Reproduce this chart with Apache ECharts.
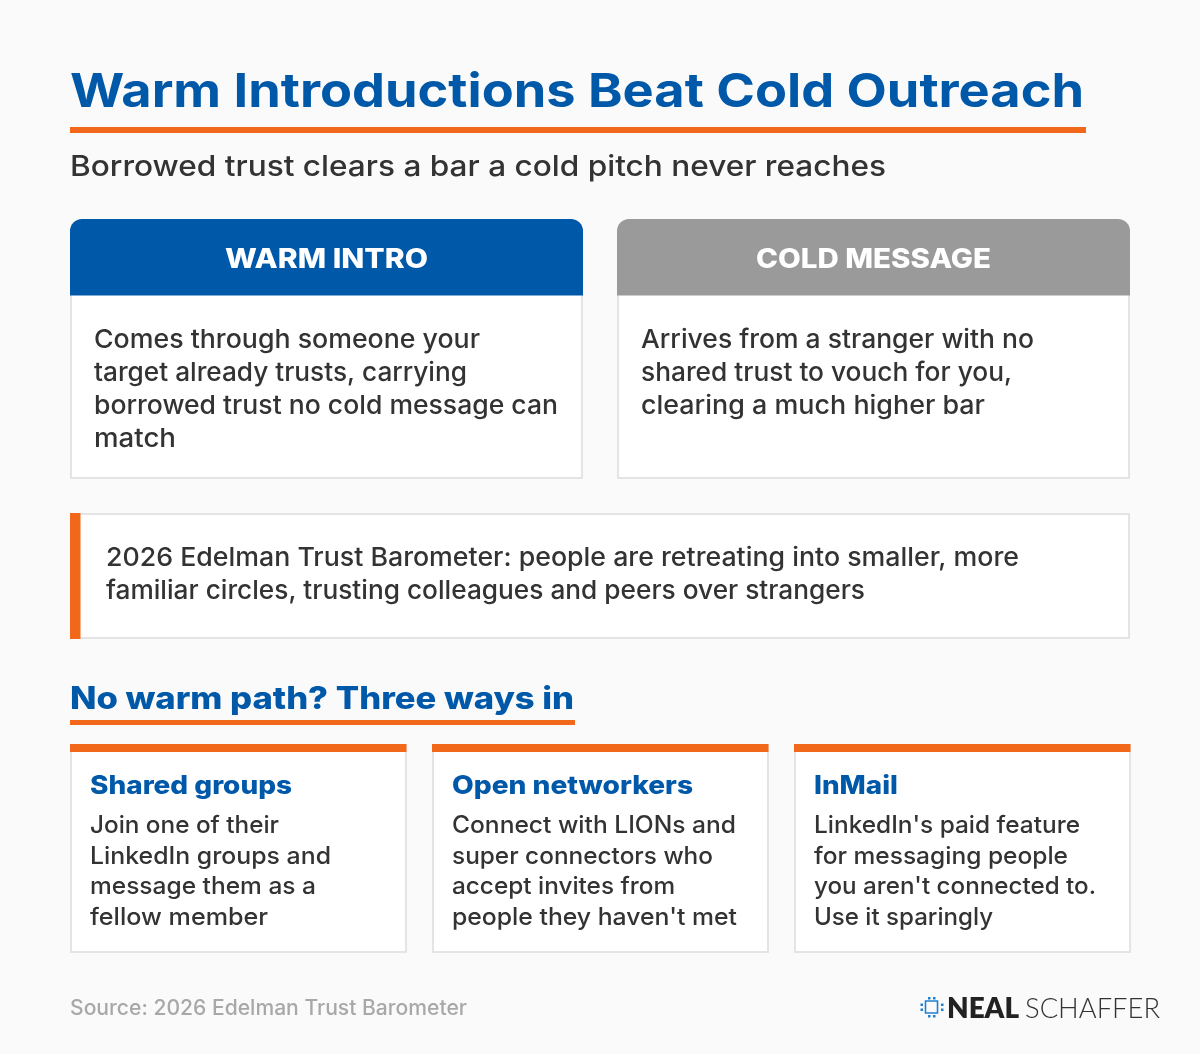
<!DOCTYPE html>
<html><head><meta charset="utf-8">
<style>html,body{margin:0;padding:0;background:#fafafa}#c{width:1200px;height:1054px}</style>
<script src="https://cdn.jsdelivr.net/npm/echarts@6/dist/echarts.min.js"></script>
</head><body><div id="c"></div>
<script>
const titleText = "Warm Introductions Beat Cold Outreach";
const subtitleText = "Borrowed trust clears a bar a cold pitch never reaches";
const columnHeads = ["WARM INTRO", "COLD MESSAGE"];
const warmLines = ["Comes through someone your", "target already trusts, carrying", "borrowed trust no cold message can", "match"];
const coldLines = ["Arrives from a stranger with no", "shared trust to vouch for you,", "clearing a much higher bar"];
const calloutLines = ["2026 Edelman Trust Barometer: people are retreating into smaller, more", "familiar circles, trusting colleagues and peers over strangers"];
const sectionHead = "No warm path? Three ways in";
const wayTitles = ["Shared groups", "Open networkers", "InMail"];
const way1Lines = ["Join one of their", "LinkedIn groups and", "message them as a", "fellow member"];
const way2Lines = ["Connect with LIONs and", "super connectors who", "accept invites from", "people they haven't met"];
const way3Lines = ["LinkedIn's paid feature", "for messaging people", "you aren't connected to.", "Use it sparingly"];
const sourceText = "Source: 2026 Edelman Trust Barometer";
const logoWords = ["NEAL", "SCHAFFER"];

const BLUE = '#0058a9', ORANGE = '#f2681a', GREY = '#9a9a9a', INK = '#333333', BORDER = '#e4e4e4';
const FAM = 'Inter, "Noto Sans", sans-serif';
const mctx = document.createElement('canvas').getContext('2d');
const els = [];
function rect(x, y, w, h, fill, extra) {
  els.push(Object.assign({type:'rect', shape:{x, y, width:w, height:h, r:(extra&&extra.r)||0},
    style:{fill, stroke:(extra&&extra.stroke)||null, lineWidth:(extra&&extra.lw)||0}, silent:true}));
}
function text(str, x, yMid, font, fill, width, center) {
  mctx.font = font;
  const natural = mctx.measureText(str).width;
  const sx = width ? width / natural : 1;
  const left = center ? center - (width || natural) / 2 : x;
  els.push({type:'text', x:left, y:yMid, scaleX:sx, scaleY:1, silent:true,
    style:{text:str, x:0, y:0, font, fill, textAlign:'left', textVerticalAlign:'middle'}});
}
const f = (w, s, fam) => `${w} ${s}px ${fam || FAM}`;

// title block
text(titleText, 70, 92.5, f(700, 47), BLUE, 1014);
rect(70, 127, 1016, 6, ORANGE);
text(subtitleText, 70, 167, f(500, 29), INK, 816);

// comparison cards
[[70, 513, BLUE], [617, 513, GREY]].forEach(([x, w, c], i) => {
  rect(x + 1, 290, w - 2, 188, '#ffffff', {stroke:BORDER, lw:2});
  rect(x, 219, w, 76.5, c, {r:[12,12,0,0]});
  text(columnHeads[i], 0, 260, f(800, 27), '#ffffff', [203, 235][i], x + w / 2);
});
const warmW = [386, 373, 464, 82], coldW = [393, 371, 344], bodyY = [340, 373, 406, 439];
warmLines.forEach((s, i) => text(s, 94, bodyY[i], f(500, 26), INK, warmW[i]));
coldLines.forEach((s, i) => text(s, 641, bodyY[i], f(500, 26), INK, coldW[i]));

// callout
rect(71, 514, 1058, 124, '#ffffff', {stroke:BORDER, lw:2});
rect(70, 513, 10.5, 126, ORANGE);
const callW = [913, 759], callY = [558, 591];
calloutLines.forEach((s, i) => text(s, 106, callY[i], f(500, 26), INK, callW[i]));

// section heading
text(sectionHead, 70, 700, f(800, 31), BLUE, 504);
rect(70, 720, 505, 5, ORANGE);

// three ways
const wayX = [70, 432, 794];
const wayTW = [202, 241, 84];
const wayW = [[189, 241, 226, 178], [284, 261, 223, 285], [266, 254, 282, 179]];
const wayL = [way1Lines, way2Lines, way3Lines];
const wayY = [826, 857, 887, 918];
wayX.forEach((x, i) => {
  rect(x + 1, 745, 335, 207, '#ffffff', {stroke:BORDER, lw:2});
  rect(x, 744, 336.5, 8, ORANGE);
  text(wayTitles[i], x + 20, 786, f(800, 25.5), BLUE, wayTW[i]);
  wayL[i].forEach((s, j) => text(s, x + 20, wayY[j], f(500, 24), INK, wayW[i][j]));
});

// footer
text(sourceText, 70, 1009, f(500, 21), '#a8a8a8', 397);
const LOGO = '#2080d0';
rect(925.5, 1001, 12, 12, 'rgba(0,0,0,0)', {stroke:LOGO, lw:1.6});
[[928,997],[933,997],[928,1015],[933,1015],[920.5,1003.5],[920.5,1008.5],[941,1003.5],[941,1008.5]].forEach(p => {
  rect(p[0], p[1], 2.5, 2.5, LOGO);
});
text(logoWords[0], 947, 1009, f(800, 28, 'Lato, "Open Sans", sans-serif'), '#222222', 72);
text(logoWords[1], 1025, 1009, f(300, 28, 'Lato, "Open Sans", sans-serif'), '#333333', 135);

const chart = echarts.init(document.getElementById('c'), null, {renderer:'canvas', width:1200, height:1054});
chart.setOption({backgroundColor:'#fafafa', animation:false, graphic:{elements:els}});
</script></body></html>
